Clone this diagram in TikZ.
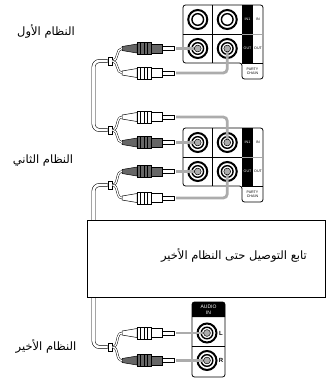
\documentclass[tikz,border=0pt]{standalone}
\usepackage{fontspec}
\newfontfamily\arabicfont[Script=Arabic]{DejaVu Sans}
\newfontfamily\latinsf{Liberation Sans}
\TeXXeTstate=1
\tikzset{
  outl/.style={draw=black, line width=0.8pt},
  wire/.style={draw=gray!65, line width=2.8pt},
  cable/.style={draw=black, line width=0.55pt, double=white, double distance=2.6pt},
  strand/.style={draw=black, line width=0.45pt, double=white, double distance=1.3pt},
  junc/.style={draw=black, fill=white, line width=0.5pt, inner sep=0pt, minimum width=4.5pt, minimum height=7.5pt},
  tinytxt/.style={font=\latinsf\fontsize{3.6}{4}\selectfont, inner sep=0pt},
  smalltxt/.style={font=\latinsf\fontsize{5}{6}\selectfont, inner sep=0pt},
  lrtxt/.style={font=\latinsf\bfseries\fontsize{6}{7}\selectfont, inner sep=0pt},
  lbl/.style={font=\arabicfont\fontsize{11.5}{13}\selectfont, inner sep=0pt},
  plugtipc/.style={fill=gray!65, draw=black, line width=0.5pt},
  pics/plug/.style={code={
    \filldraw[fill=#1, line width=0.5pt] (0,-2) -- (15,-4.5) -- (15,4.5) -- (0,2) -- cycle;
    \filldraw[fill=#1, line width=0.5pt] (15,-6) rectangle (29,6);
    \foreach \i in {18.5,22,25.5} \draw[line width=0.45pt] (\i,-6) -- (\i,6);
    \filldraw[fill=#1, line width=0.5pt] (29,-4.5) rectangle (40,4.5);
    \filldraw[fill=white, line width=0.5pt] (40,-1.8) rectangle (52,1.8);
    \coordinate (-tail) at (0,0);
    \coordinate (-tip) at (54,0);
  }},
  pics/jack/.style={code={
    \draw[line width=2pt] (0,0) circle[radius=9.5pt];
    \draw[line width=1.4pt] (0,0) circle[radius=5.8pt];
  }},
  pics/chainpanel/.style={code={
    \fill[black] (59,0) rectangle (70,58);
    \draw[line width=0.8pt, rounded corners=2.5pt] (0,0) -- (80,0) -- (80,74) -- (59,74) -- (59,58) -- (0,58) -- cycle;
    \draw[line width=0.8pt] (29.5,0) -- (29.5,58) (0,29) -- (59,29) (59,0) -- (59,58) (59,58) -- (80,58);
    \draw[gray!70, line width=1pt] (59,29) -- (80,29);
    \node[tinytxt, text=white] (-in1) at (64.5,14.5) {IN1};
    \node[tinytxt] (-in) at (75,14.5) {IN};
    \node[tinytxt, text=white] (-out1) at (64.5,43.5) {OUT};
    \node[tinytxt] (-out) at (75,43.5) {OUT};
    \node[tinytxt, align=center] (-party) at (69.5,66) {PARTY\\CHAIN};
    \coordinate (-a) at (14.75,14.5);
    \coordinate (-b) at (44.25,14.5);
    \coordinate (-c) at (14.75,43.5);
    \coordinate (-d) at (44.25,43.5);
  }}
}
\begin{document}
\begin{tikzpicture}[x=1pt,y=-1pt]
\useasboundingbox (0,0) rectangle (327,384);

% panels
\pic (p1) at (183,5) {chainpanel};
\pic (p2) at (183,128) {chainpanel};
\foreach \n in {p1-a,p1-b,p1-c,p1-d,p2-a,p2-b,p2-c,p2-d} \pic at (\n) {jack};

% junctions
\node[junc] (j1) at (110,61) {};
\node[junc] (j2) at (110,130) {};
\node[junc] (j3) at (110,185) {};
\node[junc] (j4) at (110,347) {};

% plugs
\pic (pA) at (122,48.5) {plug=black!60};
\pic (pB) at (122,73) {plug=white};
\pic (pC) at (122,117) {plug=white};
\pic (pD) at (122,142.5) {plug=black!60};
\pic (pE) at (122,171.5) {plug=black!60};
\pic (pF) at (122,198) {plug=white};
\pic (pG) at (122,333) {plug=white};
\pic (pH) at (122,360.5) {plug=black!60};

% cables
\draw[cable, rounded corners=6pt] (j1.west) -- ++(-14,0) |- (j2.west);
\draw[cable, rounded corners=6pt] (j3.west) -- ++(-14,0) |- (j4.west);
\draw[strand] (j1.east) to[out=0,in=180] (pA-tail);
\draw[strand] (j1.east) to[out=0,in=180] (pB-tail);
\draw[strand] (j2.east) to[out=0,in=180] (pC-tail);
\draw[strand] (j2.east) to[out=0,in=180] (pD-tail);
\draw[strand] (j3.east) to[out=0,in=180] (pE-tail);
\draw[strand] (j3.east) to[out=0,in=180] (pF-tail);
\draw[strand] (j4.east) to[out=0,in=180] (pG-tail);
\draw[strand] (j4.east) to[out=0,in=180] (pH-tail);

% box
\node[draw, line width=0.8pt, fill=white, minimum width=238pt, minimum height=77pt,
      inner sep=0pt, outer sep=0pt, anchor=north west] (box) at (87,220) {};
\node[lbl, anchor=east] (boxtxt) at (307,255) {\beginR تابع التوصيل حتى النظام الأخير\endR};

% final panel
\fill[black] (192,317) [rounded corners=2.5pt] -- (192,302) -- (225,302) [sharp corners] -- (225,317) -- cycle;
\draw[outl, rounded corners=2.5pt] (192,302) rectangle (225,377);
\draw[outl] (192,346) -- (225,346);
\node[smalltxt, text=white, align=center] (audio) at (208.5,309.5) {AUDIO\\IN};
\coordinate (fL) at (207,333);
\coordinate (fR) at (207,360.5);
\pic at (fL) {jack};
\pic at (fR) {jack};
\node[lrtxt] (lL) at (221,333) {L};
\node[lrtxt] (lR) at (221,360.5) {R};

% wires
\draw[wire] (pA-tip) -- (p1-c);
\draw[wire, rounded corners=4pt] (pB-tip) -| (p1-d);
\draw[wire, rounded corners=4pt] (pC-tip) -| (p2-b);
\draw[wire] (pD-tip) -- (p2-a);
\draw[wire] (pE-tip) -- (p2-c);
\draw[wire, rounded corners=4pt] (pF-tip) -| (p2-d);
\draw[wire] (pG-tip) -- (fL);
\draw[wire] (pH-tip) -- (fR);
\foreach \n in {p1-c,p1-d,p2-a,p2-b,p2-c,p2-d,fL,fR} \filldraw[plugtipc] (\n) circle[radius=3.4pt];

% labels
\node[lbl] (s1) at (46,31) {\beginR النظام الأول\endR};
\node[lbl] (s2) at (43,161) {\beginR النظام الثاني\endR};
\node[lbl] (s3) at (46,346) {\beginR النظام الأخير\endR};
\end{tikzpicture}
\end{document}
